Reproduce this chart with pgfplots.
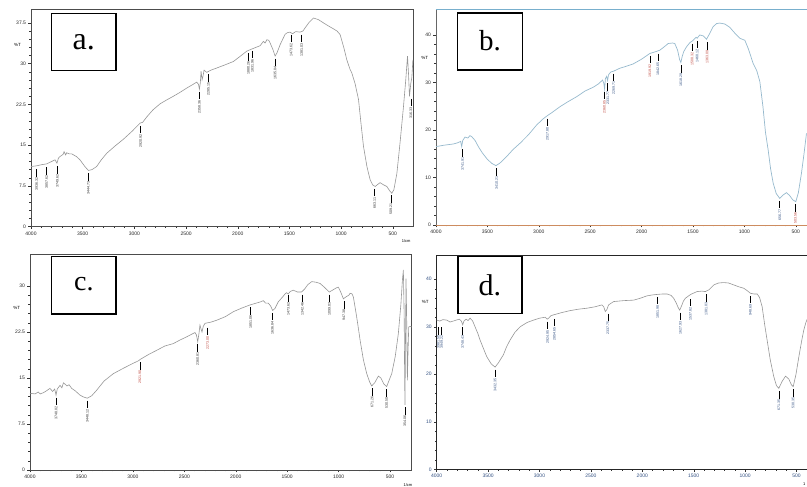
\documentclass[border=0pt]{standalone}
\usepackage{fontspec}
\setmainfont{Liberation Serif}
\setsansfont{Liberation Sans}
\usepackage{pgfplots}
\pgfplotsset{compat=1.18}
\definecolor{curvegray}{RGB}{150,150,150}
\definecolor{curveblue}{RGB}{150,185,205}
\definecolor{frameblue}{RGB}{120,175,205}
\definecolor{axorange}{RGB}{205,140,95}
\definecolor{labnavy}{RGB}{50,80,130}
\definecolor{labred}{RGB}{190,70,60}

\newcommand{\pklabel}{\sffamily\fontsize{3.6}{4}\selectfont}
% peak marker: [label colour]{wavenumber}{%T at curve}{label}
\newcommand{\pk}[4][black!80]{\draw[black,line width=0.6pt] (axis cs:#2,#3) ++(0pt,-2.5pt) -- ++(0pt,-7.5pt)
  node[rotate=90,anchor=east,inner sep=0.6pt,font=\pklabel,text=#1]{#4};}

\tikzset{panelbox/.style={draw=black,line width=1.4pt,fill=white}}
\pgfplotsset{
  ftir/.style={
    scale only axis, anchor=south west,
    x dir=reverse, xmax=4000,
    xtick={500,1000,...,4000}, minor x tick num=4,
    minor y tick num=4,
    tick align=outside, xtick pos=bottom, ytick pos=left,
    major tick length=2.5pt, minor tick length=1.5pt,
    tick style={black!80,line width=0.4pt},
    axis line style={black!70,line width=0.5pt},
    ticklabel style={font=\sffamily\fontsize{5}{6}\selectfont,text=black!85},
    /pgf/number format/assume math mode=true,
    /pgf/number format/1000 sep={},
    xticklabel style={yshift=1pt}, yticklabel style={xshift=1pt},
    clip=false,
  },
}

\begin{document}
\begin{tikzpicture}
\path[use as bounding box] (0,0) rectangle (807pt,487pt);
\clip (0,0) rectangle (807pt,487pt);

% ---------------- a ----------------
\begin{axis}[ftir, at={(31pt,260.3pt)}, width=382pt, height=217.4pt,
  xmin=305, ymin=0, ymax=40, ytick={0,7.5,...,37.5}]
\addplot[curvegray,line width=0.6pt] coordinates {
(4000,11.07) (3945,11.2) (3900,11.4) (3848,11.56) (3800,12.0) (3768,12.3) (3749,11.7) (3735,12.6)
(3720,12.9) (3690,13.3) (3680,13.8) (3665,13.2) (3655,13.6) (3630,13.4) (3606,13.4) (3560,12.9)
(3526,12.3) (3480,11.1) (3445,10.35) (3410,10.5) (3365,11.07) (3320,12.3) (3268,13.5) (3190,14.8)
(3106,16.1) (3020,17.6) (2945,19.06) (2920,19.2) (2880,20.2) (2820,21.5) (2752,22.6) (2690,23.3)
(2623,24.0) (2560,24.7) (2494,25.5) (2440,26.1) (2397,26.6) (2380,26.2) (2371,25.3) (2362,26.5)
(2355,28.6) (2345,27.05) (2335,27.8) (2326,28.8) (2300,28.4) (2260,28.8) (2203,29.2) (2120,29.8)
(2042,30.4) (1980,31.3) (1913,32.3) (1850,32.8) (1784,33.3) (1752,34.1) (1735,33.8) (1719,34.4)
(1700,34.3) (1687,33.8) (1660,32.6) (1639,31.4) (1620,32.0) (1590,33.5) (1565,34.5) (1542,35.4)
(1520,35.7) (1494,35.8) (1470,35.5) (1440,35.9) (1397,35.8) (1370,36.0) (1348,36.6) (1310,37.6)
(1268,38.4) (1220,38.1) (1171,37.5) (1120,36.9) (1074,36.4) (1040,36.0) (1010,35.35) (975,33.0)
(945,30.7) (915,29.0) (897,28.3) (865,26.3) (832,23.4) (808,19.0) (784,14.8) (750,11.0)
(719,8.6) (695,7.7) (671,7.4) (645,7.8) (623,8.1) (590,7.7) (558,7.4) (530,6.6) (510,6.15)
(490,6.8) (461,9.8) (430,15.5) (397,22.1) (375,27.0) (358,31.4) (348,28.0) (339,24.0) (326,26.4)
(316,27.5) (306,30.7)};
\pk{3945}{11.0}{3936.32}
\pk{3848}{11.4}{3857.62}
\pk{3745}{11.6}{3749.62}
\pk{3444}{10.3}{3444.73}
\pk{2939}{19.0}{2920.92}
\pk{2371}{25.3}{2358.36}
\pk{2284}{28.5}{2285.15}
\pk{1897}{32.4}{1880.26}
\pk{1858}{32.8}{1831.96}
\pk{1639}{31.4}{1635.84}
\pk{1484}{35.8}{1473.62}
\pk{1381}{35.8}{1381.03}
\pk{677}{7.4}{663.11}
\pk{519}{6.2}{509.21}
\pk{326}{24.0}{316.33}
\node[font=\sffamily\fontsize{4.5}{5}\selectfont] at (axis description cs:-0.035,0.835) {\%T};
\node[font=\sffamily\fontsize{4}{5}\selectfont] at (axis description cs:0.982,-0.066) {1/cm};
\draw[panelbox] (axis description cs:0.054,0.7176) rectangle (axis description cs:0.2225,0.9816);
\node[font=\fontsize{32}{34}\selectfont] at (axis description cs:0.138,0.85) {a.};
\end{axis}

% ---------------- b ----------------
\begin{axis}[ftir, at={(436pt,262pt)}, width=378pt, height=215.7pt,
  xmin=323, ymin=0, ymax=45.4, ytick={0,10,...,40},
  axis x line*=bottom, axis y line*=left,
  x axis line style={axorange,line width=0.6pt},
  y axis line style={black!60,line width=0.5pt}]
\addplot[curveblue,line width=0.7pt] coordinates {
(4000,16.5) (3920,16.8) (3831,17.05) (3790,17.3) (3760,17.6) (3750,16.5) (3740,17.8) (3718,18.5)
(3690,18.3) (3670,18.8) (3653,18.6) (3620,17.8) (3588,16.5) (3550,15.2) (3507,14.0) (3460,13.0)
(3417,12.5) (3380,13.0) (3350,13.6) (3313,14.4) (3250,15.9) (3183,17.2) (3100,19.0) (3021,21.05)
(2960,22.3) (2924,22.9) (2870,23.7) (2794,24.9) (2720,25.9) (2632,27.0) (2550,28.2) (2470,29.0)
(2420,29.7) (2380,30.5) (2368,29.9) (2360,28.6) (2352,30.8) (2340,31.3) (2331,30.4) (2322,31.6)
(2300,32.2) (2270,32.4) (2211,33.0) (2150,33.4) (2082,33.9) (2000,34.9) (1920,36.1) (1860,36.5)
(1822,36.8) (1780,37.5) (1741,38.2) (1700,38.3) (1677,38.2) (1650,36.8) (1630,34.8) (1618,34.2)
(1605,35.5) (1590,36.5) (1563,37.5) (1530,38.4) (1508,38.7) (1498,38.9) (1470,39.5) (1460,39.3)
(1434,40.0) (1400,39.8) (1369,39.1) (1340,40.2) (1304,41.75) (1270,42.4) (1239,42.5) (1190,42.3)
(1142,41.6) (1090,40.3) (1045,39.3) (1010,39.0) (996,38.9) (960,37.0) (915,34.0) (880,32.5)
(850,30.2) (820,25.0) (795,19.5) (769,15.8) (745,11.8) (720,8.8) (690,6.6) (656,5.6) (625,6.3)
(591,6.8) (560,6.2) (530,5.3) (500,4.9) (475,6.8) (445,10.9) (420,15.0) (396,19.3)};
\pk[labnavy]{3741}{16.5}{3741.91}
\pk[labnavy]{3410}{12.5}{3410.21}
\pk[labnavy]{2917}{22.9}{2917.80}
\pk[labred]{2362}{28.6}{2360.85}
\pk[labnavy]{2329}{30.4}{2331.77}
\pk[labnavy]{2272}{32.4}{2269.71}
\pk[labred]{1920}{36.1}{1919.92}
\pk[labnavy]{1842}{36.6}{1842.65}
\pk[labnavy]{1618}{34.2}{1618.29}
\pk[labred]{1508}{38.7}{1508.32}
\pk[labnavy]{1460}{39.3}{1460.12}
\pk[labred]{1363}{39.0}{1363.09}
\pk[labnavy]{656}{5.6}{656.77}
\pk[labred]{503}{4.9}{503.56}
\draw[frameblue,line width=1.2pt] (rel axis cs:0,1) -- (rel axis cs:1,1);
\node[font=\sffamily\fontsize{4.5}{5}\selectfont] at (axis description cs:-0.03,0.775) {\%T};
\draw[panelbox] (axis description cs:0.0574,0.7186) rectangle (axis description cs:0.2283,0.983);
\node[font=\fontsize{29}{31}\selectfont] at (axis description cs:0.143,0.855) {b.};
\end{axis}

% ---------------- c ----------------
\begin{axis}[ftir, at={(30pt,17pt)}, width=381.7pt, height=216pt,
  xmin=290, ymin=0, ymax=35.2, ytick={0,7.5,...,30}]
\addplot[curvegray,line width=0.6pt] coordinates {
(4000,12.5) (3950,12.4) (3920,12.7) (3900,12.4) (3870,12.6) (3840,12.9) (3806,13.3) (3780,12.8)
(3760,13.2) (3747,12.2) (3735,13.2) (3708,13.8) (3690,13.4) (3675,14.2) (3660,14.0) (3640,13.7)
(3620,13.9) (3595,13.3) (3560,12.9) (3514,12.2) (3480,11.9) (3443,11.7) (3400,12.1) (3352,13.0)
(3280,14.5) (3190,15.7) (3090,16.6) (2996,17.4) (2945,17.8) (2931,18.0) (2850,18.8) (2769,19.5)
(2690,20.2) (2607,20.6) (2540,21.2) (2477,21.7) (2420,22.2) (2396,22.4) (2382,22.0) (2370,20.9)
(2358,22.2) (2348,23.6) (2338,23.0) (2328,22.5) (2316,23.4) (2299,23.9) (2240,24.1) (2186,24.4)
(2100,25.0) (2023,25.8) (1940,26.4) (1861,26.9) (1800,27.2) (1760,27.4) (1732,27.6) (1710,27.2)
(1684,27.2) (1660,26.7) (1642,26.0) (1620,26.3) (1587,27.4) (1550,28.1) (1520,28.7) (1506,28.9)
(1490,28.7) (1470,29.1) (1441,29.3) (1400,29.0) (1361,29.0) (1330,29.5) (1300,30.2) (1262,30.7)
(1220,30.6) (1181,30.4) (1140,29.8) (1091,29.0) (1050,29.4) (1020,29.7) (1003,29.8) (980,29.0)
(954,27.9) (930,28.2) (900,28.5) (889,28.8) (870,28.7) (857,28.2) (830,25.5) (810,23.3)
(792,21.2) (760,18.0) (727,15.7) (700,14.4) (679,13.7) (650,14.2) (614,15.3) (590,15.0)
(560,14.0) (533,13.6) (510,14.6) (484,15.7) (450,18.5) (420,22.2) (395,27.0) (380,31.0)
(371,32.6) (363,25.0) (358,14.0) (355,10.6) (351,20.0) (345,31.2) (339,25.0) (332,14.6)
(326,19.0) (319,23.3) (305,23.4) (290,23.3)};
\pk{3747}{12.2}{3748.02}
\pk{3443}{11.7}{3448.12}
\pk[labred]{2931}{18.0}{2921.90}
\pk{2370}{20.9}{2360.81}
\pk[labred]{2273}{23.6}{2273.00}
\pk{1855}{26.9}{1851.06}
\pk{1644}{26.0}{1636.84}
\pk{1488}{29.0}{1473.62}
\pk{1352}{29.0}{1342.46}
\pk{1091}{29.0}{1099.03}
\pk{949}{27.9}{947.38}
\pk{674}{13.7}{671.26}
\pk{533}{13.6}{530.50}
\pk{355}{10.6}{354.06}
\node[font=\sffamily\fontsize{4.5}{5}\selectfont] at (axis description cs:-0.035,0.75) {\%T};
\node[font=\sffamily\fontsize{4}{5}\selectfont] at (axis description cs:0.99,-0.07) {1/cm};
\draw[panelbox] (axis description cs:0.0568,0.722) rectangle (axis description cs:0.2253,0.9875);
\node[font=\fontsize{28}{30}\selectfont] at (axis description cs:0.141,0.86) {c.};
\end{axis}

% ---------------- d ----------------
\begin{axis}[ftir, at={(436.7pt,17.7pt)}, width=378pt, height=214.3pt,
  xmin=323, ymin=0, ymax=45.1, ytick={0,10,...,40},
  axis line style={black!85,line width=0.6pt},
  ticklabel style={text=labnavy}]
\addplot[curvegray,line width=0.6pt] coordinates {
(4000,31.4) (3970,31.2) (3940,31.5) (3903,31.4) (3870,31.0) (3838,31.2) (3810,31.4) (3779,31.6)
(3760,31.2) (3747,30.4) (3735,31.2) (3714,31.6) (3695,31.3) (3675,31.8) (3650,31.2) (3627,30.0)
(3600,28.6) (3578,27.2) (3545,25.4) (3513,23.7) (3470,22.2) (3432,21.5) (3400,22.4) (3351,24.1)
(3320,25.8) (3286,27.2) (3240,28.8) (3188,30.0) (3120,30.9) (3058,31.4) (3000,31.8) (2945,32.0)
(2925,31.6) (2912,31.8) (2890,32.3) (2864,32.5) (2780,33.0) (2701,33.4) (2620,33.7) (2539,33.9)
(2460,34.2) (2393,34.6) (2375,34.2) (2360,33.2) (2345,33.6) (2328,34.6) (2279,35.3) (2180,35.5)
(2084,35.6) (2020,36.0) (1955,36.5) (1900,36.7) (1857,36.8) (1800,36.9) (1760,36.9) (1720,36.6)
(1695,36.0) (1670,35.0) (1650,34.0) (1636,33.5) (1620,34.3) (1600,35.4) (1581,36.0) (1530,36.8)
(1468,37.4) (1420,37.5) (1386,37.4) (1350,37.8) (1305,38.8) (1260,39.2) (1208,39.3) (1160,39.2)
(1110,38.8) (1060,38.4) (1013,38.1) (980,37.6) (948,37.05) (915,36.9) (883,36.9) (860,36.2)
(834,34.2) (810,30.5) (786,27.2) (755,23.0) (721,19.5) (695,17.6) (672,17.05) (640,18.5)
(607,19.6) (575,19.0) (550,17.8) (532,17.4) (505,20.0) (477,23.7) (450,27.0) (429,29.3)
(410,30.8) (396,31.6)};
\pk[labnavy]{3984}{30.4}{3981.50}
\pk[labnavy]{3951}{30.4}{3949.22}
\pk[labnavy]{3747}{30.4}{3748.43}
\pk[labnavy]{3432}{21.5}{3432.35}
\pk[labnavy]{2922}{31.6}{2924.95}
\pk[labnavy]{2854}{32.2}{2854.65}
\pk[labnavy]{2335}{33.3}{2337.75}
\pk[labnavy]{1851}{36.8}{1851.98}
\pk[labnavy]{1630}{33.5}{1627.93}
\pk[labnavy]{1532}{36.4}{1537.82}
\pk[labnavy]{1380}{37.4}{1381.03}
\pk[labnavy]{948}{37.0}{948.69}
\pk[labnavy]{672}{17.0}{671.35}
\pk[labnavy]{532}{17.4}{530.35}
\node[font=\sffamily\fontsize{4.5}{5}\selectfont] at (axis description cs:-0.03,0.78) {\%T};
\node[font=\sffamily\fontsize{4}{5}\selectfont] at (axis description cs:0.972,-0.07) {1};
\draw[panelbox] (axis description cs:0.0566,0.728) rectangle (axis description cs:0.2259,0.992);
\node[font=\fontsize{30}{32}\selectfont] at (axis description cs:0.141,0.86) {d.};
\end{axis}
\end{tikzpicture}
\end{document}
